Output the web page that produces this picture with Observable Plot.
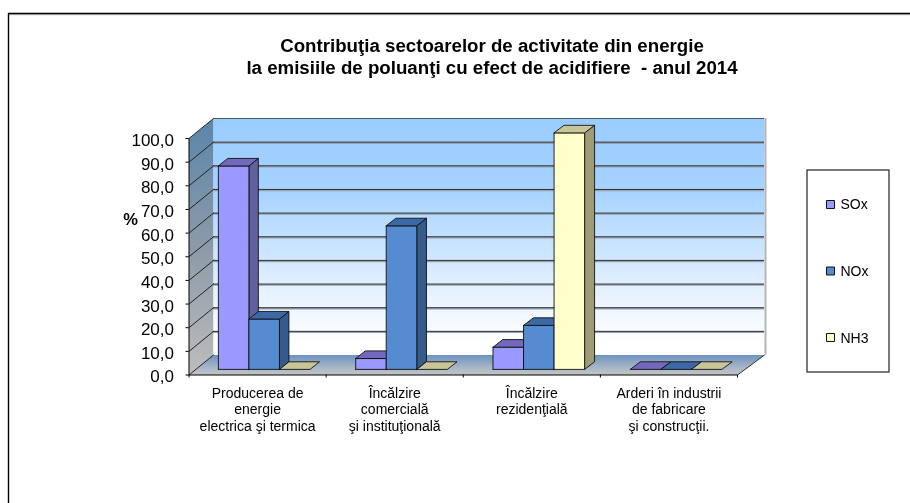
<!DOCTYPE html>
<html><head><meta charset="utf-8">
<style>html,body{margin:0;padding:0;background:#fff}svg{display:block;filter:blur(0.3px)}</style>
<script src="https://cdn.jsdelivr.net/npm/d3@7"></script>
<script src="https://cdn.jsdelivr.net/npm/@observablehq/plot@0.6"></script>
</head><body>
<script>
const categories = ["Producerea de\nenergie\nelectrica şi termica", "Încălzire\ncomercială\nşi instituţională", "Încălzire\nrezidenţială", "Arderi în industrii\nde fabricare\nşi construcţii."];
const seriesNames = ["SOx", "NOx", "NH3"];
const sox = [86, 4.6, 9.4, 0];
const nox = [21.3, 60.7, 18.6, 0];
const nh3 = [0, 0, 100, 0];
const yTicks = [0,10,20,30,40,50,60,70,80,90,100];
const titleLines = "Contribuţia sectoarelor de activitate din energie\nla emisiile de poluanţi cu efect de acidifiere  - anul 2014";
const frontColors = ["#9999ff", "#558bd0", "#ffffcc"];
const sideColors = ["#62609f", "#355a8c", "#9c9c78"];
const topColors = ["#7468bd", "#3c69a6", "#c8c698"];

// layout (pixels) -> scale units
const L = 188.5, R = 737, B = 374.5, T = 138, W = 910, H = 503;
const ux = (R - L) / 4, uy = (B - T) / 100;
const toX = px => (px - L) / ux, toY = px => (B - px) / uy;
// oblique projection: category position c, value v, depth d (0 front, 1 back wall)
const px = (c, d) => c + d * (24.5 + 0.625 * c) / ux;
const py = (v, d) => v + d * 20 / uy;
const poly = (id, pts) => pts.map(([c, v, d], i) => ({id, x: px(c, d), y: py(v, d), i}));
const closed = a => [...a, a[0]];

const leftWall = poly("l", closed([[0,0,0],[0,0,1],[0,100,1],[0,100,0]]));
const backWall = poly("b", closed([[0,0,1],[4,0,1],[4,100,1],[0,100,1]]));
const floor = poly("f", closed([[0,0,0],[4,0,0],[4,0,1],[0,0,1]]));
const gridBack = yTicks.slice(1).map(v => ({v}));
const diagonals = yTicks.flatMap(v => poly("d" + v, [[0,v,0],[0,v,1]]));
const floorRight = poly("r", [[4,0,0],[4,0,1]]);

const barW = 30.5 / ux, barGap = 22.5 / ux, d0 = 0.28, d1 = 0.66;
const values = [sox, nox, nh3];
const faces = [];
categories.forEach((_, c) => seriesNames.forEach((_, s) => {
  const v = values[s][c], x0 = c + barGap + s * barW, x1 = x0 + barW, k = `${c}-${s}`;
  if (v > 0) {
    faces.push(...poly("s" + k, closed([[x1,0,d0],[x1,0,d1],[x1,v,d1],[x1,v,d0]])).map(p => ({...p, col: sideColors[s]})));
    faces.push(...poly("f" + k, closed([[x0,0,d0],[x1,0,d0],[x1,v,d0],[x0,v,d0]])).map(p => ({...p, col: frontColors[s]})));
  }
  faces.push(...poly("t" + k, closed([[x0,v,d0],[x1,v,d0],[x1,v,d1],[x0,v,d1]])).map(p => ({...p, col: topColors[s]})));
}));

const defs = () => {
  const svg = d3.create("svg:defs");
  const grad = (id, stops) => {
    const g = svg.append("linearGradient").attr("id", id).attr("x1",0).attr("y1",0).attr("x2",0).attr("y2",1);
    stops.forEach(([o,c]) => g.append("stop").attr("offset",o).attr("stop-color",c));
  };
  grad("wall", [[0,"#99ccff"],[0.3,"#a6d2ff"],[0.75,"#e8f3ff"],[0.95,"#ffffff"],[1,"#ffffff"]]);
  grad("left", [[0,"#5b86ab"],[0.5,"#8c9aa8"],[1,"#bdbdbd"]]);
  grad("floor", [[0,"#6b93c0"],[0.6,"#a6b5c6"],[1,"#c4c4c4"]]);
  return svg.node();
};

const chart = Plot.plot({
  width: W, height: H,
  marginLeft: L, marginRight: W - R, marginTop: T, marginBottom: H - B,
  style: {fontFamily: "'Liberation Sans', Arial, sans-serif", color: "#000", background: "#fff"},
  x: {domain: [0, 4], axis: null},
  y: {domain: [0, 100], axis: null},
  marks: [
    defs,
    Plot.ruleY([0], {y: toY(13), x1: toX(8), x2: toX(W), stroke: "#c8c8c8", strokeWidth: 1.5, dy: 1}),
    Plot.ruleY([0], {y: toY(13), x1: toX(8), x2: toX(W), stroke: "#000", strokeWidth: 1.4}),
    Plot.ruleX([0], {x: toX(8), y1: toY(13), y2: toY(H), stroke: "#000", strokeWidth: 1.4}),
    Plot.line(leftWall, {x: "x", y: "y", z: "id", fill: "url(#left)", stroke: "none"}),
    Plot.line(backWall, {x: "x", y: "y", z: "id", fill: "url(#wall)", stroke: "none"}),
    Plot.ruleX([0], {x: px(4, 1), y1: py(0, 1), y2: py(100, 1), stroke: "#b5b5b5", strokeWidth: 2, dx: 1}),
    Plot.ruleY([100], {y: py(100, 1), x1: px(0, 1), x2: px(4, 1), stroke: "#555", strokeWidth: 1}),
    Plot.ruleY(gridBack.slice(0, -1), {y: d => py(d.v, 1), x1: px(0, 1), x2: px(4, 1), stroke: "#9aa2ac", strokeWidth: 1.5, dy: 1}),
    Plot.ruleY(gridBack.slice(0, -1), {y: d => py(d.v, 1), x1: px(0, 1), x2: px(4, 1), stroke: "#2b2f36", strokeWidth: 1}),
    Plot.line(floor, {x: "x", y: "y", z: "id", fill: "url(#floor)", stroke: "none"}),
    Plot.line(diagonals, {x: "x", y: "y", z: "id", stroke: "#222", strokeWidth: 1}),
    Plot.line(floorRight, {x: "x", y: "y", z: "id", stroke: "#333", strokeWidth: 1}),
    Plot.line(faces, {x: "x", y: "y", z: "id", fill: "col", stroke: "#111", strokeWidth: 0.9, strokeLinejoin: "round"}),
    Plot.ruleX([0], {x: 0, y1: 0, y2: 100, stroke: "#000", strokeWidth: 1}),
    Plot.ruleY([0], {y: 0, stroke: "#000", strokeWidth: 1}),
    Plot.axisY({ticks: yTicks, tickSize: 3, tickFormat: () => "", label: null}),
    Plot.axisY({ticks: yTicks, tickSize: 0, tickPadding: 15, dy: 2, fontSize: 17, label: null, tickFormat: v => v.toFixed(1).replace(".", ",")}),
    Plot.axisX({ticks: [0,1,2,3,4], tickSize: 3, tickFormat: () => "", label: null}),
    Plot.axisX({ticks: [0.5,1.5,2.5,3.5], tickSize: 0, tickPadding: 11, fontSize: 14, lineHeight: 1.18, label: null, tickFormat: v => categories[v - 0.5]}),
    Plot.text(["%"], {x: toX(130), y: toY(219), fontSize: 16.5, fontWeight: "bold"}),
    Plot.text([titleLines], {x: toX(491.5), y: toY(55), fontSize: 18.7, fontWeight: "bold", lineHeight: 1.18, textAnchor: "middle"}),
    Plot.rect([0], {x1: toX(807), x2: toX(889), y1: toY(170), y2: toY(372), fill: "#fff", stroke: "#222", strokeWidth: 1.2}),
    Plot.dot(seriesNames, {x: toX(830), y: (d, i) => toY(204 + i * 66.5), symbol: "square", r: 4.5, fill: (d, i) => frontColors[i], stroke: "#111", strokeWidth: 1}),
    Plot.text(seriesNames, {x: toX(840), y: (d, i) => toY(204.5 + i * 67), textAnchor: "start", fontSize: 14})
  ]
});
document.body.appendChild(chart);
</script>
</body></html>
